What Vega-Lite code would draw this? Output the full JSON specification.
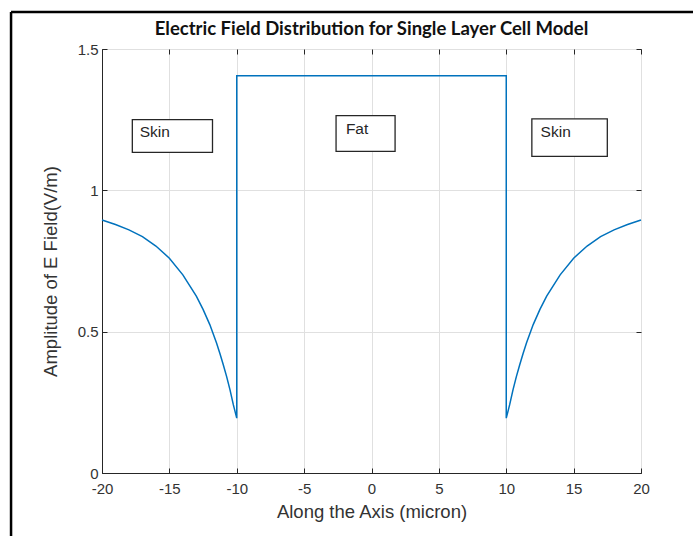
{
  "$schema": "https://vega.github.io/schema/vega-lite/v6.json",
  "width": 539,
  "height": 424,
  "autosize": "none",
  "padding": {"left": 102, "top": 49, "right": 52, "bottom": 63},
  "background": "white",
  "title": {
    "text": "Electric Field Distribution for Single Layer Cell Model",
    "font": "Lato",
    "fontWeight": "bold",
    "fontSize": 18.5,
    "color": "#111111",
    "anchor": "middle",
    "offset": -28
  },
  "config": {
    "view": {"stroke": "#262626", "strokeWidth": 1},
    "axis": {
      "labelFont": "Liberation Sans",
      "labelFontSize": 15,
      "labelColor": "#333333",
      "titleFont": "Liberation Sans",
      "titleFontSize": 18.5,
      "titleFontWeight": "normal",
      "titleColor": "#333333",
      "domainColor": "#262626",
      "tickColor": "#262626",
      "gridColor": "#e0e0e0",
      "gridWidth": 1
    }
  },
  "datasets": {
    "curve": [
      {"o": 1, "x": -20, "y": 0.895},
      {"o": 2, "x": -19, "y": 0.879},
      {"o": 3, "x": -18, "y": 0.86},
      {"o": 4, "x": -17, "y": 0.836},
      {"o": 5, "x": -16, "y": 0.803},
      {"o": 6, "x": -15, "y": 0.76},
      {"o": 7, "x": -14, "y": 0.701},
      {"o": 8, "x": -13, "y": 0.626},
      {"o": 9, "x": -12.5, "y": 0.579},
      {"o": 10, "x": -12, "y": 0.525},
      {"o": 11, "x": -11.5, "y": 0.46},
      {"o": 12, "x": -11.25, "y": 0.423},
      {"o": 13, "x": -11, "y": 0.383},
      {"o": 14, "x": -10.75, "y": 0.341},
      {"o": 15, "x": -10.5, "y": 0.294},
      {"o": 16, "x": -10.25, "y": 0.241},
      {"o": 17, "x": -10, "y": 0.194},
      {"o": 18, "x": -10, "y": 1.405},
      {"o": 19, "x": 10, "y": 1.405},
      {"o": 20, "x": 10, "y": 0.194},
      {"o": 21, "x": 10.25, "y": 0.241},
      {"o": 22, "x": 10.5, "y": 0.294},
      {"o": 23, "x": 10.75, "y": 0.341},
      {"o": 24, "x": 11, "y": 0.383},
      {"o": 25, "x": 11.25, "y": 0.423},
      {"o": 26, "x": 11.5, "y": 0.46},
      {"o": 27, "x": 12, "y": 0.525},
      {"o": 28, "x": 12.5, "y": 0.579},
      {"o": 29, "x": 13, "y": 0.626},
      {"o": 30, "x": 14, "y": 0.701},
      {"o": 31, "x": 15, "y": 0.76},
      {"o": 32, "x": 16, "y": 0.803},
      {"o": 33, "x": 17, "y": 0.836},
      {"o": 34, "x": 18, "y": 0.86},
      {"o": 35, "x": 19, "y": 0.879},
      {"o": 36, "x": 20, "y": 0.895}
    ],
    "boxes": [
      {"label": "Skin", "x1": -17.75, "x2": -11.8, "y1": 1.134, "y2": 1.25, "tx": -17.2, "ty": 1.205},
      {"label": "Fat", "x1": -2.63, "x2": 1.75, "y1": 1.138, "y2": 1.264, "tx": -1.9, "ty": 1.218},
      {"label": "Skin", "x1": 11.9, "x2": 17.5, "y1": 1.12, "y2": 1.253, "tx": 12.55, "ty": 1.207}
    ],
    "frame": [
      {"x1": -26.75, "y1": 1.631, "x2": -26.75, "y2": -0.3},
      {"x1": -26.75, "y1": 1.631, "x2": 25, "y2": 1.631}
    ]
  },
  "resolve": {"axis": {"x": "independent", "y": "independent"}},
  "layer": [
    {
      "data": {"name": "curve"},
      "mark": {"type": "line", "color": "#0072BD", "strokeWidth": 1.5},
      "encoding": {
        "x": {
          "field": "x", "type": "quantitative",
          "scale": {"domain": [-20, 20], "nice": false, "zero": false},
          "axis": {"values": [-20, -15, -10, -5, 0, 5, 10, 15, 20], "labelExpr": "'' + datum.value", "title": "Along the Axis (micron)", "tickSize": -5, "labelPadding": 13, "titlePadding": 6, "labelFlush": false}
        },
        "y": {
          "field": "y", "type": "quantitative",
          "scale": {"domain": [0, 1.5], "nice": false, "zero": false},
          "axis": {"values": [0, 0.5, 1, 1.5], "labelExpr": "'' + datum.value", "title": "Amplitude of E Field(V/m)", "tickSize": -5, "labelPadding": 9, "titleX": -42, "titleY": 222}
        },
        "order": {"field": "o", "type": "quantitative"}
      }
    },
    {
      "data": {"name": "boxes"},
      "mark": {"type": "rect", "fill": "white", "stroke": "#262626", "strokeWidth": 1.3},
      "encoding": {
        "x": {"field": "x1", "type": "quantitative", "axis": {"orient": "top", "values": [-20, -15, -10, -5, 0, 5, 10, 15, 20], "labels": false, "title": null, "grid": false, "tickSize": -5, "domain": false}},
        "x2": {"field": "x2"},
        "y": {"field": "y1", "type": "quantitative", "axis": {"orient": "right", "values": [0, 0.5, 1, 1.5], "labels": false, "title": null, "grid": false, "tickSize": -5, "domain": false}},
        "y2": {"field": "y2"}
      }
    },
    {
      "data": {"name": "boxes"},
      "mark": {"type": "text", "align": "left", "baseline": "middle", "font": "Liberation Sans", "fontSize": 15.5, "color": "#262626"},
      "encoding": {
        "x": {"field": "tx", "type": "quantitative", "axis": null},
        "y": {"field": "ty", "type": "quantitative", "axis": null},
        "text": {"field": "label"}
      }
    },
    {
      "data": {"name": "frame"},
      "mark": {"type": "rule", "color": "black", "strokeWidth": 2.5},
      "encoding": {
        "x": {"field": "x1", "type": "quantitative", "axis": null},
        "y": {"field": "y1", "type": "quantitative", "axis": null},
        "x2": {"field": "x2"},
        "y2": {"field": "y2"}
      }
    }
  ]
}
